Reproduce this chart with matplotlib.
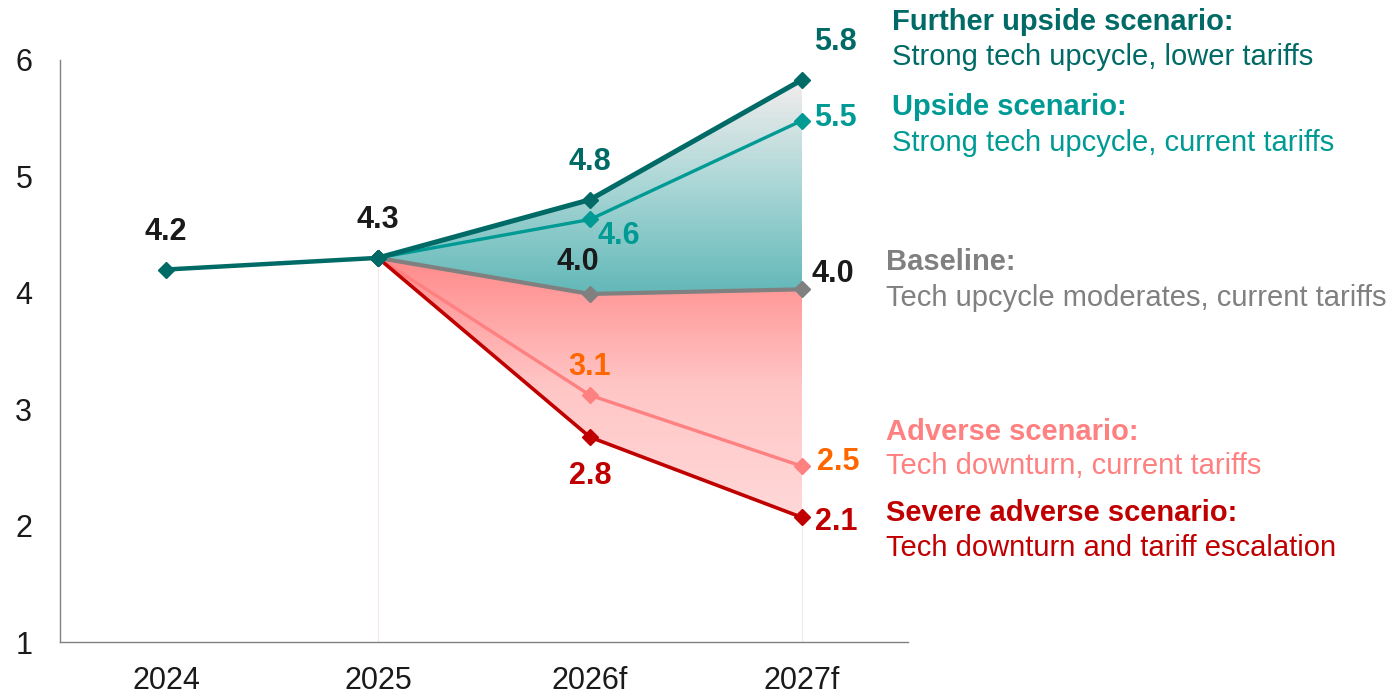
import matplotlib
matplotlib.use("Agg")
import matplotlib.pyplot as plt
import numpy as np
from matplotlib.colors import LinearSegmentedColormap

plt.rcParams['font.family'] = ['Liberation Sans', 'DejaVu Sans']

# data
years = ['2024', '2025', '2026f', '2027f']
history = [4.2, 4.3]
further_upside = [4.3, 4.8, 5.83]
upside = [4.3, 4.63, 5.48]
baseline = [4.3, 3.99, 4.03]
adverse = [4.3, 3.12, 2.51]
severe = [4.3, 2.76, 2.07]

c_further = '#006B66'
c_upside = '#009A94'
c_base = '#808080'
c_adverse = '#FF8080'
c_severe = '#C00000'
c_orange = '#FF6600'
c_text = '#1A1A1A'

fig = plt.figure(figsize=(13.96, 6.94), dpi=100)
ax = fig.add_axes([60 / 1396, 52 / 694, 848 / 1396, 582 / 694])

x_all = np.arange(len(years))
x_sc = x_all[1:]

# gradient fills clipped to the scenario bands
upper_cmap = LinearSegmentedColormap.from_list('up', ['#62B8B8', '#A9D6D6', '#F4EDED'])
lower_cmap = LinearSegmentedColormap.from_list('low', ['#FF8A8A', '#FFC6C6', '#FFD8D8'])

band_up = ax.fill_between(x_sc, baseline, further_upside, color='none', lw=0)
grad = np.linspace(0, 1, 256).reshape(-1, 1)
im = ax.imshow(grad, cmap=upper_cmap, aspect='auto', origin='lower',
               extent=(x_sc[0], x_sc[-1], min(baseline), max(further_upside)), zorder=1)
im.set_clip_path(band_up.get_paths()[0], transform=ax.transData)

band_low = ax.fill_between(x_sc, severe, baseline, color='none', lw=0)
im2 = ax.imshow(grad[::-1], cmap=lower_cmap, aspect='auto', origin='lower',
                extent=(x_sc[0], x_sc[-1], min(severe), max(baseline)), zorder=1)
im2.set_clip_path(band_low.get_paths()[0], transform=ax.transData)

# faint edges under the bands
ax.vlines(x_sc[0], 1, history[-1], color='#F6E6E6', lw=0.8, zorder=0)
ax.vlines(x_sc[-1], 1, severe[-1], color='#EEEEEE', lw=0.8, zorder=0)

mk = dict(marker='D', markersize=8)
ax.plot(x_sc, baseline, color=c_base, lw=3, zorder=3, **mk)
ax.plot(x_sc, adverse, color=c_adverse, lw=2.4, zorder=3, **mk)
ax.plot(x_sc, severe, color=c_severe, lw=2.6, zorder=4, **mk)
ax.plot(x_sc, upside, color=c_upside, lw=2.4, zorder=4, **mk)
ax.plot(x_sc, further_upside, color=c_further, lw=3.6, zorder=5, **mk)
ax.plot(x_all[:2], history, color=c_further, lw=3.2, zorder=6, **mk)

def lab(xi, yi, dx, dy, color, ha='center'):
    ax.annotate(f'{yi:.1f}', (xi, yi), xytext=(dx, dy), textcoords='offset points',
                ha=ha, va='center', fontsize=22, fontweight='bold', color=color, zorder=7)

lab(0, history[0], 0, 27, c_text)
lab(1, history[1], 0, 27, c_text)
lab(2, further_upside[1], 0, 27, c_further)
lab(2, upside[1], 21, -12, c_upside)
lab(2, baseline[1], -9, 23, c_text)
lab(2, adverse[1], 0, 20, c_orange)
lab(2, severe[1], 0, -28, c_severe)
lab(3, further_upside[2], 24, 27, c_further)
lab(3, upside[2], 9, 2, c_upside, ha='left')
lab(3, baseline[2], 7, 11, c_text, ha='left')
lab(3, adverse[2], 11, 3, c_orange, ha='left')
lab(3, severe[2], 9, -3, c_severe, ha='left')

ax.set_xlim(-0.5, 3.5)
ax.set_ylim(1, 6)
ax.set_xticks(x_all)
ax.set_xticklabels(years)
ax.set_yticks([1, 2, 3, 4, 5, 6])
ax.tick_params(length=0, labelsize=22, colors=c_text)
ax.tick_params(axis='y', pad=20)
ax.tick_params(axis='x', pad=17)
for s in ['top', 'right']:
    ax.spines[s].set_visible(False)
for s in ['left', 'bottom']:
    ax.spines[s].set_color('#808080')
    ax.spines[s].set_linewidth(1)

# scenario descriptions on the right
def note(px, py, txt, color, bold=False):
    fig.text(px / 1396, 1 - py / 694, txt, color=color, fontsize=21,
             fontweight='bold' if bold else 'normal', ha='left', va='center')

note(892, 22, 'Further upside scenario:', c_further, True)
note(892, 57, 'Strong tech upcycle, lower tariffs', c_further)
note(892, 107, 'Upside scenario:', c_upside, True)
note(892, 143, 'Strong tech upcycle, current tariffs', c_upside)
note(886, 262, 'Baseline:', c_base, True)
note(886, 298, 'Tech upcycle moderates, current tariffs', c_base)
note(886, 432, 'Adverse scenario:', c_adverse, True)
note(886, 466, 'Tech downturn, current tariffs', c_adverse)
note(886, 513, 'Severe adverse scenario:', c_severe, True)
note(886, 548, 'Tech downturn and tariff escalation', c_severe)

fig.savefig('out.png', dpi=100)
